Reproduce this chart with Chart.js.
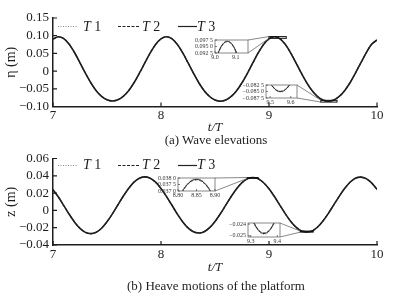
<!DOCTYPE html>
<html><head><meta charset="utf-8">
<script src="https://cdn.jsdelivr.net/npm/chart.js@4.4.1/dist/chart.umd.min.js"></script>
<style>
html,body{margin:0;padding:0;background:#fff}
#wrap{position:relative;width:394px;height:296px;overflow:hidden;font-family:"Liberation Serif","Times New Roman",serif;color:#1e1e1e}
canvas{position:absolute;display:block}
.cap{position:absolute;left:0;width:432px;text-align:center;font-size:13px;line-height:13px;white-space:nowrap}
.lt{position:absolute;font-size:14px;line-height:14px;white-space:nowrap}
svg.ls{position:absolute;left:0;top:0}
</style></head>
<body><div id="wrap">
<canvas id="cA" width="394" height="135" style="left:0;top:0"></canvas>
<canvas id="cB" width="394" height="135" style="left:0;top:140px"></canvas>
<canvas id="iA" width="69" height="26" style="left:185px;top:37px"></canvas>
<canvas id="iB" width="67" height="26" style="left:236px;top:82px"></canvas>
<canvas id="iC" width="72" height="26" style="left:149px;top:175px"></canvas>
<canvas id="iD" width="67" height="27" style="left:219px;top:220px"></canvas>
<svg class="ls" width="394" height="296">
  <line x1="58" y1="26.5" x2="77" y2="26.5" stroke="#8a8a8a" stroke-width="1" stroke-dasharray="1,1.5"/>
  <line x1="118" y1="26.5" x2="140" y2="26.5" stroke="#222" stroke-width="1" stroke-dasharray="3,1.5"/>
  <line x1="178" y1="26.5" x2="197" y2="26.5" stroke="#222" stroke-width="1.2"/>
  <line x1="58" y1="165.5" x2="77" y2="165.5" stroke="#8a8a8a" stroke-width="1" stroke-dasharray="1,1.5"/>
  <line x1="118" y1="165.5" x2="140" y2="165.5" stroke="#222" stroke-width="1" stroke-dasharray="3,1.5"/>
  <line x1="178" y1="165.5" x2="197" y2="165.5" stroke="#222" stroke-width="1.2"/>
</svg>
<div class="lt" style="left:83px;top:20px"><i>T</i> 1</div>
<div class="lt" style="left:142px;top:20px"><i>T</i> 2</div>
<div class="lt" style="left:197px;top:20px"><i>T</i> 3</div>
<div class="lt" style="left:83px;top:158px"><i>T</i> 1</div>
<div class="lt" style="left:142px;top:158px"><i>T</i> 2</div>
<div class="lt" style="left:197px;top:158px"><i>T</i> 3</div>
<div class="cap" style="top:133px">(a) Wave elevations</div>
<div class="cap" style="top:279px">(b) Heave motions of the platform</div>
</div>
<script>
// ---------- DATA ----------
const tMain = [7.00,7.05,7.10,7.15,7.20,7.25,7.30,7.35,7.40,7.45,7.50,7.55,7.60,7.65,7.70,7.75,7.80,7.85,7.90,7.95,
  8.00,8.05,8.10,8.15,8.20,8.25,8.30,8.35,8.40,8.45,8.50,8.55,8.60,8.65,8.70,8.75,8.80,8.85,8.90,8.95,
  9.00,9.05,9.10,9.15,9.20,9.25,9.30,9.35,9.40,9.45,9.50,9.55,9.60,9.65,9.70,9.75,9.80,9.85,9.90,9.95,10.00];
const etaT3 = [0.0905,0.0970,0.0916,0.0757,0.0518,0.0234,-0.0058,-0.0328,-0.0552,-0.0714,-0.0812,-0.0845,-0.0812,-0.0714,-0.0552,-0.0330,-0.0060,0.0230,0.0514,0.0754,
  0.0912,0.0970,0.0918,0.0758,0.0520,0.0236,-0.0056,-0.0330,-0.0554,-0.0718,-0.0817,-0.0850,-0.0816,-0.0717,-0.0554,-0.0330,-0.0062,0.0230,0.0514,0.0754,
  0.0913,0.0970,0.0916,0.0756,0.0517,0.0232,-0.0060,-0.0332,-0.0556,-0.0719,-0.0818,-0.0851,-0.0817,-0.0716,-0.0552,-0.0328,-0.0058,0.0232,0.0516,0.0756,0.0880];
// T1 and T2 cannot be told apart from T3 at full scale
const etaT2 = etaT3;
const etaT1 = etaT3;
const zT3 = [0.0240,0.0155,0.0055,-0.0045,-0.0136,-0.0208,-0.0254,-0.0268,-0.0252,-0.0206,-0.0132,-0.0040,0.0062,0.0163,0.0254,0.0327,0.0372,0.0388,0.0372,0.0326,
  0.0253,0.0162,0.0062,-0.0040,-0.0130,-0.0202,-0.0247,-0.0261,-0.0246,-0.0200,-0.0128,-0.0038,0.0061,0.0160,0.0249,0.0321,0.0365,0.0380,0.0365,0.0320,
  0.0249,0.0160,0.0061,-0.0037,-0.0125,-0.0194,-0.0238,-0.0248,-0.0237,-0.0192,-0.0122,-0.0034,0.0064,0.0162,0.0252,0.0325,0.0372,0.0385,0.0367,0.0318,0.0243];
const zT2 = zT3;
const zT1 = zT3;

const xTickValues = [7,8,9,10];
const xTickLabels = ['7','8','9','10'];
const etaTickValues = [-0.10,-0.05,0,0.05,0.10,0.15];
const etaTickLabels = ['\u22120.10','\u22120.05','0','0.05','0.10','0.15'];
const zTickValues = [-0.04,-0.02,0,0.02,0.04,0.06];
const zTickLabels = ['\u22120.04','\u22120.02','0','0.02','0.04','0.06'];

// inset (a): crest near t/T = 9.0-9.1
const tInA = [9.00,9.01,9.02,9.03,9.04,9.05,9.06,9.07,9.08,9.09,9.10,9.11,9.12,9.13];
const inAT3 = [0.0888,0.0913,0.0934,0.0950,0.0961,0.0968,0.0970,0.0968,0.0961,0.0950,0.0934,0.0913,0.0888,0.0858];
const inAT2 = [0.0886,0.0911,0.0932,0.0948,0.0959,0.0966,0.0968,0.0966,0.0959,0.0948,0.0932,0.0911,0.0886,0.0856];
const inAT1 = [0.0891,0.0916,0.0937,0.0953,0.0964,0.0971,0.0973,0.0971,0.0964,0.0953,0.0937,0.0916,0.0891,0.0861];
const inAxTicks = [9.0,9.1], inAxLabels = ['9.0','9.1'];
const inAyTicks = [0.0925,0.095,0.0975], inAyLabels = ['0.092 5','0.095 0','0.097 5'];
// inset (a): trough near t/T = 9.5-9.6
const tInB = [9.48,9.49,9.50,9.51,9.52,9.53,9.54,9.55,9.56,9.57,9.58,9.59,9.60,9.61,9.62,9.63];
const inBT3 = [-0.0785,-0.0803,-0.0817,-0.0829,-0.0838,-0.0845,-0.0849,-0.0850,-0.0849,-0.0845,-0.0838,-0.0829,-0.0817,-0.0803,-0.0785,-0.0766];
const inBT2 = [-0.0784,-0.0802,-0.0816,-0.0828,-0.0837,-0.0844,-0.0848,-0.0849,-0.0848,-0.0844,-0.0837,-0.0828,-0.0816,-0.0802,-0.0784,-0.0765];
const inBT1 = [-0.0788,-0.0806,-0.0820,-0.0832,-0.0841,-0.0848,-0.0852,-0.0853,-0.0852,-0.0848,-0.0841,-0.0832,-0.0820,-0.0806,-0.0788,-0.0769];
const inBxTicks = [9.5,9.6], inBxLabels = ['9.5','9.6'];
const inByTicks = [-0.0875,-0.085,-0.0825], inByLabels = ['\u22120.087 5','\u22120.085 0','\u22120.082 5'];
// inset (b): crest near t/T = 8.80-8.90
const tInC = [8.80,8.81,8.82,8.83,8.84,8.85,8.86,8.87,8.88,8.89,8.90];
const inCT3 = [0.03632,0.03689,0.03733,0.03765,0.03784,0.03790,0.03784,0.03765,0.03733,0.03689,0.03632];
const inCT2 = [0.03627,0.03684,0.03728,0.03760,0.03779,0.03785,0.03779,0.03760,0.03728,0.03684,0.03627];
const inCT1 = [0.03640,0.03697,0.03741,0.03773,0.03792,0.03798,0.03792,0.03773,0.03741,0.03697,0.03640];
const inCxTicks = [8.80,8.85,8.90], inCxLabels = ['8.80','8.85','8.90'];
const inCyTicks = [0.0370,0.0375,0.0380], inCyLabels = ['0.037 0','0.037 5','0.038 0'];
// inset (b): trough near t/T = 9.3-9.4
const tInD = [9.30,9.31,9.32,9.33,9.34,9.35,9.36,9.37,9.38,9.39,9.40];
const inDT3 = [-0.02322,-0.02379,-0.02423,-0.02455,-0.02474,-0.02480,-0.02474,-0.02455,-0.02423,-0.02379,-0.02322];
const inDT2 = [-0.02317,-0.02374,-0.02418,-0.02450,-0.02469,-0.02475,-0.02469,-0.02450,-0.02418,-0.02374,-0.02317];
const inDT1 = [-0.02330,-0.02387,-0.02431,-0.02463,-0.02482,-0.02488,-0.02482,-0.02463,-0.02431,-0.02387,-0.02330];
const inDxTicks = [9.3,9.4], inDxLabels = ['9.3','9.4'];
const inDyTicks = [-0.025,-0.024], inDyLabels = ['\u22120.025','\u22120.024'];

// ---------- STYLE / HELPERS ----------
const FONT = '"Liberation Serif","Times New Roman",serif';
const INK = '#1e1e1e';
Chart.defaults.font.family = FONT;
Chart.defaults.color = INK;

function seriesSet(t, s1, s2, s3, w) {
  const pts = arr => arr.map((v, i) => ({x: t[i], y: v}));
  const common = {pointRadius: 0, fill: false, tension: 0.3};
  return [
    Object.assign({label: 'T 1', data: pts(s1), borderColor: '#8a8a8a', borderWidth: w * 0.7, borderDash: [1, 1.5], order: 2}, common),
    Object.assign({label: 'T 2', data: pts(s2), borderColor: '#333', borderWidth: w * 0.7, borderDash: [3, 1.5], order: 1}, common),
    Object.assign({label: 'T 3', data: pts(s3), borderColor: INK, borderWidth: w, order: 0}, common)
  ];
}
function fixSize(prop, val) {
  return s => { s[prop] = val; s.paddingLeft = 0; s.paddingRight = 0; s.paddingTop = 0; s.paddingBottom = 0; };
}
function setTicks(vals) { return s => { s.ticks = vals.map(v => ({value: v})); }; }

const inwardTicks = {
  id: 'inwardTicks',
  afterDraw(chart, args, opts) {
    const {ctx, chartArea: a, scales: {x, y}} = chart;
    const len = opts.len || 4;
    ctx.save();
    ctx.strokeStyle = opts.color || INK;
    ctx.lineWidth = opts.width || 1.2;
    ctx.beginPath();
    x.ticks.forEach(t => { const px = x.getPixelForValue(t.value); ctx.moveTo(px, a.bottom); ctx.lineTo(px, a.bottom - len); });
    y.ticks.forEach(t => { const py = y.getPixelForValue(t.value); ctx.moveTo(a.left, py); ctx.lineTo(a.left + len, py); });
    ctx.stroke();
    ctx.restore();
  }
};
const boxOutline = {
  id: 'boxOutline',
  beforeDatasetsDraw(chart) {
    const {ctx, chartArea: a} = chart;
    ctx.save(); ctx.fillStyle = '#fff'; ctx.fillRect(a.left, a.top, a.width, a.height); ctx.restore();
  },
  afterDraw(chart) {
    const {ctx, chartArea: a} = chart;
    ctx.save(); ctx.strokeStyle = '#6a6a6a'; ctx.lineWidth = 0.8;
    ctx.strokeRect(a.left, a.top, a.width, a.height); ctx.restore();
  }
};
const LINKS = {};
const zoomLinks = {
  id: 'zoomLinks',
  afterDatasetsDraw(chart) {
    const list = LINKS[chart.canvas.id] || [];
    const {ctx, scales: {x, y}} = chart;
    const cr = chart.canvas.getBoundingClientRect();
    list.forEach(L => {
      const x0 = x.getPixelForValue(L.xr[0]), x1 = x.getPixelForValue(L.xr[1]);
      const yT = y.getPixelForValue(L.yr[1]), yB = y.getPixelForValue(L.yr[0]);
      const ia = L.inset.chartArea, ir = L.inset.canvas.getBoundingClientRect();
      const bx = ir.left - cr.left + ia.right;
      const bT = ir.top - cr.top + ia.top, bB = ir.top - cr.top + ia.bottom;
      ctx.save();
      ctx.strokeStyle = '#6a6a6a'; ctx.lineWidth = 0.8;
      ctx.beginPath();
      ctx.moveTo(bx, bT); ctx.lineTo(x0, yT);
      ctx.moveTo(bx, bB); ctx.lineTo(x0, yB);
      ctx.stroke();
      ctx.strokeStyle = '#111'; ctx.lineWidth = 1;
      ctx.strokeRect(x0, yT, x1 - x0, yB - yT);
      ctx.restore();
    });
  }
};

function makeInset(id, t, s1, s2, s3, xr, yr, xT, xL, yT, yL, yw, xh) {
  const fnt = {family: FONT, size: 6, lineHeight: 1};
  return new Chart(document.getElementById(id), {
    type: 'line',
    data: {datasets: seriesSet(t, s1, s2, s3, 1)},
    options: {
      responsive: false, animation: false, events: [],
      layout: {padding: {top: 3, right: 6, left: 0, bottom: 0}},
      plugins: {legend: {display: false}, tooltip: {enabled: false}, inwardTicks: {len: 2, width: 0.7, color: '#444'}},
      scales: {
        x: {type: 'linear', min: xr[0], max: xr[1], afterFit: fixSize('height', xh), afterBuildTicks: setTicks(xT),
            grid: {display: false, drawTicks: false}, border: {display: false},
            ticks: {autoSkip: false, maxRotation: 0, padding: 1, color: '#333', font: fnt, callback: (v, i) => xL[i]}},
        y: {min: yr[0], max: yr[1], afterFit: fixSize('width', yw), afterBuildTicks: setTicks(yT),
            grid: {display: false, drawTicks: false}, border: {display: false},
            ticks: {autoSkip: false, padding: 2, color: '#333', font: fnt, callback: (v, i) => yL[i]}}
      }
    },
    plugins: [boxOutline, inwardTicks]
  });
}

function makeMain(id, t, s1, s2, s3, yr, yVals, yLabels, yTitle, padTop, xh, xPad) {
  const fnt = {family: FONT, size: 13};
  return new Chart(document.getElementById(id), {
    type: 'line',
    data: {datasets: seriesSet(t, s1, s2, s3, 1.6)},
    options: {
      responsive: false, animation: false, events: [],
      layout: {padding: {top: padTop, right: 17, left: 0, bottom: 0}},
      plugins: {legend: {display: false}, tooltip: {enabled: false}, inwardTicks: {len: 4, width: 1.2}},
      scales: {
        x: {type: 'linear', min: 7, max: 10, afterFit: fixSize('height', xh), afterBuildTicks: setTicks(xTickValues),
            grid: {display: false, drawTicks: false}, border: {display: true, color: INK, width: 1.5},
            ticks: {autoSkip: false, maxRotation: 0, padding: xPad, color: INK, font: fnt, callback: (v, i) => xTickLabels[i]},
            title: {display: true, text: 't/T', color: INK, padding: 0, font: {family: FONT, size: 13, style: 'italic'}}},
        y: {min: yr[0], max: yr[1], afterFit: fixSize('width', 53), afterBuildTicks: setTicks(yVals),
            grid: {display: false, drawTicks: false}, border: {display: true, color: INK, width: 1.5},
            ticks: {autoSkip: false, padding: 4, color: INK, font: fnt, callback: (v, i) => yLabels[i]},
            title: {display: true, text: yTitle, color: INK, padding: {top: 3, bottom: 0}, font: {family: FONT, size: 14}}}
      }
    },
    plugins: [inwardTicks, zoomLinks]
  });
}

// ---------- BUILD ----------
const insetA = makeInset('iA', tInA, inAT1, inAT2, inAT3, [9.0, 9.16], [0.0925, 0.0975], inAxTicks, inAxLabels, inAyTicks, inAyLabels, 30, 10);
const insetB = makeInset('iB', tInB, inBT1, inBT2, inBT3, [9.48, 9.63], [-0.0875, -0.0825], inBxTicks, inBxLabels, inByTicks, inByLabels, 30, 10);
const insetC = makeInset('iC', tInC, inCT1, inCT2, inCT3, [8.80, 8.90], [0.0370, 0.0380], inCxTicks, inCxLabels, inCyTicks, inCyLabels, 29, 10);
const insetD = makeInset('iD', tInD, inDT1, inDT2, inDT3, [9.29, 9.41], [-0.0251, -0.0239], inDxTicks, inDxLabels, inDyTicks, inDyLabels, 29, 10);

LINKS.cA = [
  {inset: insetA, xr: [9.0, 9.16], yr: [0.0925, 0.0975]},
  {inset: insetB, xr: [9.48, 9.63], yr: [-0.0875, -0.0825]}
];
LINKS.cB = [
  {inset: insetC, xr: [8.80, 8.90], yr: [0.0370, 0.0380]},
  {inset: insetD, xr: [9.29, 9.41], yr: [-0.0251, -0.0239]}
];

makeMain('cA', tMain, etaT1, etaT2, etaT3, [-0.10, 0.15], etaTickValues, etaTickLabels, '\u03B7 (m)', 18, 28.5, 1);
makeMain('cB', tMain, zT1, zT2, zT3, [-0.04, 0.06], zTickValues, zTickLabels, 'z (m)', 18.5, 30, 2);
</script>
</body></html>
